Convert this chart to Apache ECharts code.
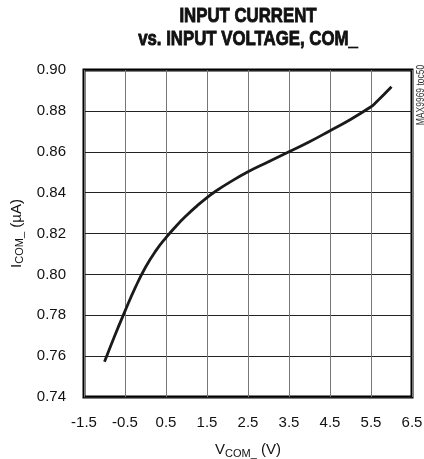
<!DOCTYPE html>
<html>
<head>
<meta charset="utf-8">
<script src="https://cdn.jsdelivr.net/npm/echarts@6/dist/echarts.min.js"></script>
<style>
  html, body { margin: 0; padding: 0; background: #fff; }
  #chart { width: 424px; height: 459px; }
</style>
</head>
<body>
<div id="chart"></div>
<script>
// Input current vs. input voltage on COM_
const vCom = [-1.0, -0.75, -0.5, -0.25, 0.0, 0.25, 0.5, 0.75, 1.0, 1.25, 1.5, 1.75, 2.0, 2.5, 3.0, 3.5, 4.0, 4.5, 5.0, 5.5, 5.6, 6.0];
const iCom = [0.7572, 0.770, 0.782, 0.7935, 0.8035, 0.8115, 0.818, 0.8237, 0.8288, 0.8334, 0.8376, 0.8412, 0.8444, 0.8502, 0.8551, 0.860, 0.8649, 0.8703, 0.8758, 0.882, 0.8837, 0.8918];
const xTicks = [-1.5, -0.5, 0.5, 1.5, 2.5, 3.5, 4.5, 5.5, 6.5];
const yTicks = [0.74, 0.76, 0.78, 0.80, 0.82, 0.84, 0.86, 0.88, 0.90];
const titleLines = ['INPUT CURRENT', 'vs. INPUT VOLTAGE, COM_'];

const FONT = '"Liberation Sans Narrow", "Arial Narrow", "Liberation Sans", Arial, sans-serif';
const INK = '#111';

const chart = echarts.init(document.getElementById('chart'), null, { renderer: 'canvas' });

chart.setOption({
  animation: false,
  backgroundColor: '#fff',
  grid: {
    left: 84, right: 12, top: 70, bottom: 62,
    outerBoundsMode: 'none',
    containLabel: false,
    show: true,
    borderColor: '#000',
    borderWidth: 3
  },
  xAxis: {
    type: 'value',
    min: xTicks[0],
    max: xTicks[xTicks.length - 1],
    axisLine: { show: false },
    axisTick: { show: false, customValues: xTicks },
    splitLine: { show: true, lineStyle: { color: '#777', width: 1 } },
    axisLabel: {
      customValues: xTicks,
      margin: 18,
      fontFamily: FONT,
      fontSize: 15,
      color: INK,
      formatter: v => v.toFixed(1)
    },
    name: '{m|V}{s|COM_}{m| (V)}',
    nameLocation: 'middle',
    nameGap: 45,
    nameTextStyle: {
      rich: {
        m: { fontFamily: FONT, fontSize: 15, color: INK, verticalAlign: 'bottom' },
        s: { fontFamily: FONT, fontSize: 11, color: INK, verticalAlign: 'bottom', padding: [0, 0, -2, 0] }
      }
    }
  },
  yAxis: {
    type: 'value',
    min: yTicks[0],
    max: yTicks[yTicks.length - 1],
    interval: 0.02,
    axisLine: { show: false },
    axisTick: { show: false },
    splitLine: { show: true, lineStyle: { color: '#222', width: 1 } },
    axisLabel: {
      margin: 18,
      fontFamily: FONT,
      fontSize: 15,
      color: INK,
      showMinLabel: true,
      showMaxLabel: true,
      formatter: v => v.toFixed(2)
    },
    name: '{m|I}{s|COM_}{m| (µA)}',
    nameLocation: 'middle',
    nameGap: 50,
    nameRotate: 90,
    nameTextStyle: {
      rich: {
        m: { fontFamily: FONT, fontSize: 15, color: INK, verticalAlign: 'bottom' },
        s: { fontFamily: FONT, fontSize: 11, color: INK, verticalAlign: 'bottom', padding: [0, 0, -2, 0] }
      }
    }
  },
  graphic: [{
    // condensed heavy heading, centred over the plot
    type: 'text',
    x: 248,
    y: 5,
    scaleX: 0.8,
    style: {
      text: titleLines.join('\n'),
      fontFamily: FONT,
      fontWeight: 'bold',
      fontSize: 21,
      lineHeight: 23,
      fill: INK,
      stroke: INK,
      lineWidth: 0.9,
      align: 'center',
      verticalAlign: 'top'
    }
  }, {
    type: 'text',
    x: 421,
    y: 95,
    rotation: Math.PI / 2,
    scaleX: 0.85,
    style: {
      text: 'MAX9969 toc50',
      fontFamily: FONT,
      fontSize: 10,
      fill: '#333',
      align: 'center',
      verticalAlign: 'middle'
    }
  }],
  series: [{
    type: 'line',
    data: vCom.map((v, i) => [v, iCom[i]]),
    smooth: true,
    showSymbol: false,
    lineStyle: { color: '#1a1a1a', width: 2.8 },
    z: 5
  }]
});
</script>
</body>
</html>
